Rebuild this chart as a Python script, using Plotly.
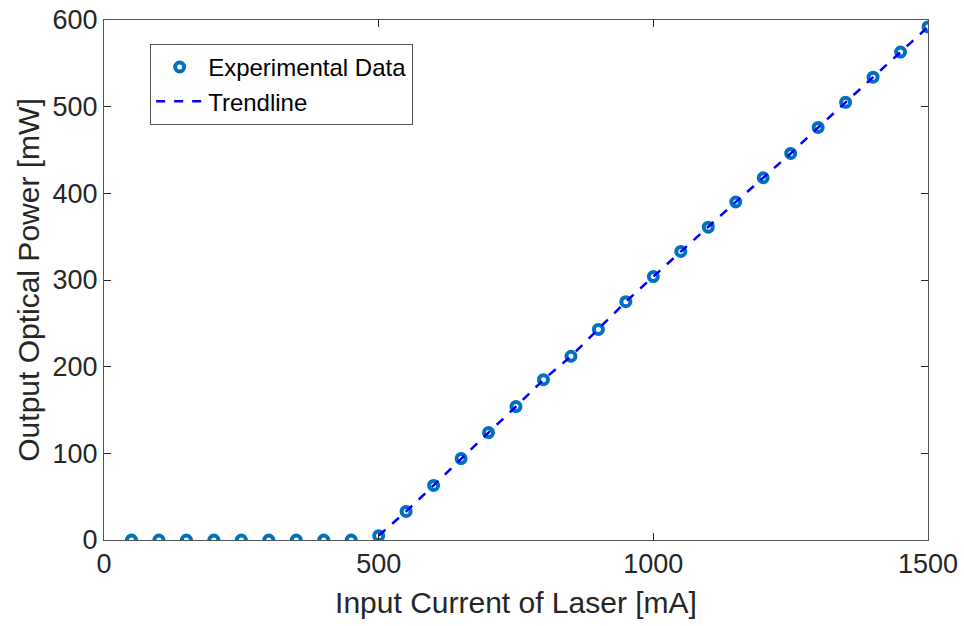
import plotly.graph_objects as go

# Laser L-I measurement: input current (mA) vs. output optical power (mW)
current_ma = [50, 100, 150, 200, 250, 300, 350, 400, 450, 500,
              550, 600, 650, 700, 750, 800, 850, 900, 950, 1000,
              1050, 1100, 1150, 1200, 1250, 1300, 1350, 1400, 1450, 1500]
power_mw = [0, 0, 0, 0, 0, 0, 0, 0, 0, 5,
            33, 63, 94, 124, 154, 185, 212, 243, 275, 304,
            333, 361, 390, 418, 446, 476, 505, 534, 563, 592]

# Trendline above threshold (from 500 mA)
threshold_ma = 500
trend_x = [c for c in current_ma if c >= threshold_ma]
trend_y = [p for c, p in zip(current_ma, power_mw) if c >= threshold_ma]

x_ticks = [0, 500, 1000, 1500]
y_ticks = [0, 100, 200, 300, 400, 500, 600]

FONT = "Liberation Sans, Arial, sans-serif"
AX_COLOR = "#262626"

fig = go.Figure()
fig.add_trace(go.Scatter(
    x=current_ma, y=power_mw, mode="markers", name="Experimental Data",
    marker=dict(symbol="circle-open", size=9, color="#0072BD",
                line=dict(width=4, color="#0072BD")),
))
fig.add_trace(go.Scatter(
    x=trend_x, y=trend_y, mode="lines", name="Trendline",
    line=dict(color="#0000FF", width=2.5, dash="dash"),
))

axis_common = dict(
    showgrid=False, zeroline=False, showline=True, linecolor="#555555",
    linewidth=1, mirror="ticks", ticks="inside", ticklen=7, tickwidth=1,
    tickcolor=AX_COLOR, tickfont=dict(family=FONT, size=27, color=AX_COLOR),
)

fig.update_layout(
    width=964, height=626,
    margin=dict(l=104, r=36, t=20, b=86),
    paper_bgcolor="white", plot_bgcolor="white",
    font=dict(family=FONT, color=AX_COLOR),
    xaxis=dict(range=[0, 1500], tickvals=x_ticks, automargin=False,
               title=dict(text="Input Current of Laser [mA]",
                          font=dict(family=FONT, size=30, color=AX_COLOR),
                          standoff=13),
               **axis_common),
    yaxis=dict(range=[0, 600], tickvals=y_ticks, automargin=False,
               title=dict(text="Output Optical Power [mW]",
                          font=dict(family=FONT, size=30, color=AX_COLOR),
                          standoff=4),
               **axis_common),
    legend=dict(x=0.056, y=0.954, xanchor="left", yanchor="top",
                bgcolor="white", bordercolor="#555555", borderwidth=1,
                font=dict(family=FONT, size=24, color="black"),
                itemwidth=47, tracegroupgap=0),
    showlegend=True,
)

fig.write_html("out.html")
